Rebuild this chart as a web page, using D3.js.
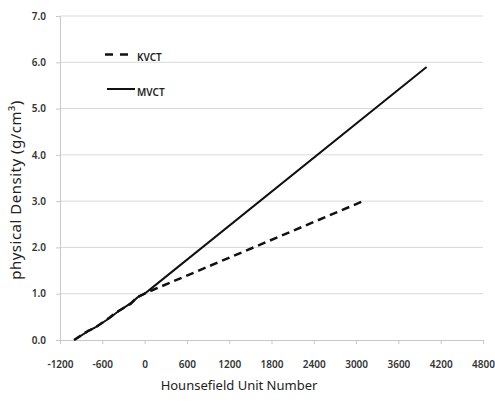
<!DOCTYPE html>
<html>
<head>
<meta charset="utf-8">
<script src="https://cdn.jsdelivr.net/npm/d3@7"></script>
<style>
body{margin:0;background:#fff;}
text{font-family:"Noto Sans","Open Sans",sans-serif;}
</style>
</head>
<body>
<svg id="chart" width="495" height="405"></svg>
<script>
// HU -> physical density
var kvctHU = [-1000, -800, -700, -500, -400, -200, -100, 0, 100, 3100];
var kvctDen = [0.00, 0.20, 0.27, 0.48, 0.60, 0.78, 0.93, 1.00, 1.07, 3.00];
var mvctHU = [-1000, -800, -700, -500, -400, -200, -100, 0, 100, 4000];
var mvctDen = [0.00, 0.19, 0.27, 0.47, 0.59, 0.79, 0.92, 1.00, 1.12, 5.90];

var xTicks = [-1200, -600, 0, 600, 1200, 1800, 2400, 3000, 3600, 4200, 4800];
var yTicks = [0, 1, 2, 3, 4, 5, 6, 7];

var svg = d3.select("#chart");
var pLeft = 60, pRight = 483, pTop = 16, pBottom = 340;

var x = d3.scaleLinear().domain([-1200, 4800]).range([pLeft, pRight]);
var y = d3.scaleLinear().domain([0, 7]).range([pBottom, pTop]);

// gridlines
svg.append("g")
	.selectAll("line")
	.data(yTicks.slice(1))
	.enter().append("line")
	.attr("x1", pLeft).attr("x2", pRight)
	.attr("y1", function(d){ return y(d); })
	.attr("y2", function(d){ return y(d); })
	.style("stroke", "#d9d9d9");

var yAxis = svg.append("g")
	.attr("transform", "translate(" + pLeft + ",0)")
	.call(d3.axisLeft(y).tickValues(yTicks).tickFormat(d3.format(".1f")).tickSize(4).tickPadding(10));

var xAxis = svg.append("g")
	.attr("transform", "translate(0," + pBottom + ")")
	.call(d3.axisBottom(x).tickValues(xTicks).tickFormat(function(d){ return d; }).tickSize(4).tickPadding(17));

[yAxis, xAxis].forEach(function(a){
	a.selectAll("path, line").style("stroke", "#c8c8c8");
	a.selectAll("text").style("font-size", "10px").style("fill", "#333").style("font-weight", "600");
});

var line = d3.line()
	.x(function(d){ return x(d[0]); })
	.y(function(d){ return y(d[1]); });

var mvct = d3.zip(mvctHU, mvctDen);
var kvct = d3.zip(kvctHU, kvctDen);

svg.append("path")
	.datum(mvct)
	.attr("d", line)
	.style("fill", "none")
	.style("stroke", "#111")
	.style("stroke-width", 2);

svg.append("path")
	.datum(kvct)
	.attr("d", line)
	.style("fill", "none")
	.style("stroke", "#111")
	.style("stroke-width", 2.5)
	.style("stroke-dasharray", "8,5");

// legend
svg.append("line").attr("x1", 105).attr("x2", 128).attr("y1", 54.5).attr("y2", 54.5)
	.style("stroke", "#111").style("stroke-width", 2.5).style("stroke-dasharray", "8,7");
svg.append("line").attr("x1", 107).attr("x2", 135).attr("y1", 89).attr("y2", 89)
	.style("stroke", "#111").style("stroke-width", 2);
svg.append("text").attr("x", 137).attr("y", 61).text("KVCT")
	.style("font-size", "10px").style("fill", "#222").style("font-weight", "600");
svg.append("text").attr("x", 137).attr("y", 96).text("MVCT")
	.style("font-size", "10px").style("fill", "#222").style("font-weight", "600");

// axis titles
svg.append("text")
	.attr("x", 239).attr("y", 390)
	.attr("text-anchor", "middle")
	.style("font-size", "13px").style("fill", "#222")
	.text("Hounsefield Unit Number");

svg.append("text")
	.attr("transform", "translate(21,190) rotate(-90)")
	.attr("text-anchor", "middle")
	.style("font-size", "15px").style("letter-spacing", "0.5px").style("fill", "#222")
	.text("physical Density (g/cm³)");
</script>
</body>
</html>
